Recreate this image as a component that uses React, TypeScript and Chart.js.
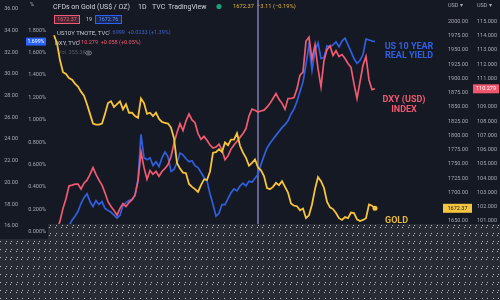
import React, { useEffect, useRef } from "react";
import { Chart, registerables } from "chart.js";

Chart.register(...registerables);

// ---- data (daily closes) ----
const goldValues = [
  1976, 1962, 1932, 1911, 1908, 1901, 1898, 1891, 1886, 1877,
  1870, 1855, 1838, 1821, 1819, 1819, 1821, 1838, 1857, 1860,
  1850, 1855, 1860, 1846, 1855, 1840, 1840, 1834, 1831, 1865,
  1857, 1838, 1840, 1834, 1840, 1829, 1824, 1822, 1821, 1814,
  1795, 1752, 1742, 1735, 1734, 1715, 1710, 1706, 1701, 1713,
  1723, 1722, 1737, 1770, 1771, 1776, 1771, 1788, 1783, 1793,
  1793, 1804, 1782, 1770, 1761, 1747, 1752, 1758, 1744, 1739,
  1729, 1708, 1706, 1710, 1717, 1713, 1720, 1710, 1700, 1681,
  1677, 1676, 1669, 1672, 1655, 1660, 1679, 1706, 1727, 1720,
  1708, 1684, 1674, 1671, 1664, 1655, 1652, 1657, 1655, 1665,
  1664, 1653, 1650, 1652, 1655, 1679, 1677, 1672.37,
];

const dxyValues = [
  99.84, 100.38, 101.0, 101.89, 102.57, 103.46, 103.52, 103.59, 103.59, 103.25,
  103.66, 103.87, 104.28, 104.75, 104.28, 103.87, 103.52, 102.98, 102.36, 102.02,
  101.75, 101.41, 101.89, 102.23, 102.02, 102.3, 102.5, 102.84, 103.8, 105.85,
  104.75, 103.93, 104.55, 104.28, 104.48, 104.14, 104.48, 104.69, 104.96, 105.51,
  106.46, 107.21, 107.83, 107.35, 108.03, 108.51, 108.1, 107.9, 107.14, 106.73,
  106.94, 106.67, 106.33, 106.12, 106.19, 106.39, 105.98, 105.3, 105.57, 106.05,
  106.33, 106.6, 106.87, 107.14, 107.49, 108.37, 108.85, 108.78, 108.65, 108.72,
  108.78, 108.99, 109.26, 109.6, 109.95, 109.54, 109.26, 108.85, 109.6, 109.6,
  109.67, 110.29, 111.24, 111.45, 113.63, 113.91, 112.34, 113.36, 111.72, 110.42,
  112.27, 113.02, 113.29, 112.61, 112.95, 112.54, 112.68, 112.4, 112.06, 111.79,
  110.63, 109.6, 110.77, 111.93, 112.54, 110.9, 110.22, 110.279,
];

const realYieldValues = [
  -0.052, -0.035, -0.017, -0.009, 0.017, 0.052, 0.104, 0.139, 0.183, 0.252,
  0.304, 0.339, 0.27, 0.226, 0.278, 0.243, 0.27, 0.209, 0.191, 0.174,
  0.148, 0.122, 0.148, 0.235, 0.261, 0.278, 0.287, 0.322, 0.47, 0.87,
  0.661, 0.643, 0.661, 0.591, 0.626, 0.583, 0.661, 0.713, 0.67, 0.539,
  0.557, 0.617, 0.704, 0.687, 0.652, 0.626, 0.635, 0.591, 0.574, 0.53,
  0.487, 0.452, 0.339, 0.243, 0.139, 0.165, 0.243, 0.243, 0.296, 0.348,
  0.383, 0.365, 0.409, 0.435, 0.409, 0.452, 0.443, 0.478, 0.513, 0.6,
  0.678, 0.748, 0.791, 0.826, 0.861, 0.896, 0.93, 0.957, 0.991, 1.052,
  1.096, 1.165, 1.252, 1.339, 1.496, 1.67, 1.443, 1.617, 1.687, 1.548,
  1.557, 1.661, 1.652, 1.67, 1.696, 1.652, 1.704, 1.73, 1.67, 1.609,
  1.548, 1.504, 1.53, 1.583, 1.722, 1.713, 1.704, 1.699,
];

const leftTicks = [16, 18, 20, 22, 24, 26, 28, 30, 32, 34, 36];
const pctTicks = [0, 0.2, 0.4, 0.6, 0.8, 1.0, 1.2, 1.4, 1.6, 1.8];
const goldTicks = [1650, 1700, 1725, 1750, 1775, 1800, 1825, 1850, 1875, 1900, 1925, 1950, 1975, 2000];
const dxyTicks = [101, 102, 103, 104, 105, 106, 107, 108, 109, 111, 112, 113, 114, 115];
const markerIndex = 68;

const FONT = "Roboto, 'Liberation Sans', sans-serif";
const BG = "#151923";
const AXIS_TEXT = "#a7aab3";
const GOLD = "#f7c43c";
const RED = "#f05a72";
const BLUE = "#3060e0";

const toPoints = (arr: number[]) => arr.map((v, i) => ({ x: i, y: v }));

const tvPlugin = {
  id: "tvDecor",
  beforeDraw(chart: any) {
    const ctx = chart.ctx;
    ctx.save();
    ctx.fillStyle = BG;
    ctx.fillRect(0, 0, chart.width, chart.height);
    ctx.restore();
  },
  beforeDatasetsDraw(chart: any) {
    const ctx = chart.ctx;
    const xs = chart.scales.x;
    ctx.save();
    // vertical marker line
    const vx = xs.getPixelForValue(markerIndex);
    ctx.strokeStyle = "#9d95d6";
    ctx.lineWidth = 1.2;
    ctx.beginPath();
    ctx.moveTo(vx, 0);
    ctx.lineTo(vx, chart.height);
    ctx.stroke();

    const t = (s: string, x: number, y: number, color: string, size: number, weight = "normal", align = "left") => {
      ctx.font = `${weight} ${size}px ${FONT}`;
      ctx.fillStyle = color;
      ctx.textAlign = align;
      ctx.textBaseline = "middle";
      ctx.fillText(s, x, y);
    };
    // header line 1
    t("CFDs on Gold (US$ / OZ)", 53, 7, "#d1d4dc", 7);
    t("1D", 138, 7, "#d1d4dc", 7);
    t("TVC", 152, 7, "#d1d4dc", 7);
    t("TradingView", 168, 7, "#d1d4dc", 7);
    ctx.fillStyle = "#1f9e7a";
    ctx.beginPath();
    ctx.arc(219, 6.5, 2.6, 0, Math.PI * 2);
    ctx.fill();
    t("1672.37  \u22123.11 (\u22120.19%)", 233, 7, "#e2b447", 5.8);
    // header line 2: price boxes
    ctx.fillStyle = "rgba(239,88,112,0.22)";
    ctx.fillRect(54, 15, 26, 9);
    ctx.strokeStyle = RED;
    ctx.lineWidth = 1;
    ctx.strokeRect(54.5, 15.5, 25, 8);
    t("1672.37", 67, 19.7, RED, 5.3, "normal", "center");
    t("19", 86, 19.7, "#c7cad3", 5.5);
    ctx.fillStyle = "rgba(41,98,255,0.22)";
    ctx.fillRect(95, 15, 27, 9);
    ctx.strokeStyle = "#2962ff";
    ctx.strokeRect(95.5, 15.5, 26, 8);
    t("1672.76", 108.5, 19.7, "#5d8bff", 5.3, "normal", "center");
    // header line 3-5
    t("US10Y TNOTE, TVC", 57, 33, "#c7cad3", 6);
    t("1.6999  +0.0233 (+1.39%)", 108, 33, "#3a63d6", 5.5);
    t("DXY, TVC", 55, 43, "#c7cad3", 6);
    t("110.279  +0.058 (+0.05%)", 78, 43, RED, 5.5);
    t("Vol  355.3K", 58, 53, "#585c66", 5.5);
    ctx.strokeStyle = "#8a8e97";
    ctx.lineWidth = 0.8;
    ctx.beginPath();
    ctx.ellipse(88.5, 53, 3, 2, 0, 0, Math.PI * 2);
    ctx.stroke();
    ctx.beginPath();
    ctx.arc(88.5, 53, 0.9, 0, Math.PI * 2);
    ctx.stroke();
    ctx.restore();
  },
  afterDatasetsDraw(chart: any) {
    const ctx = chart.ctx;
    const { yG, yD, yP } = chart.scales;
    ctx.save();
    const t = (s: string, x: number, y: number, color: string, size: number, weight = "normal", align = "left") => {
      ctx.font = `${weight} ${size}px ${FONT}`;
      ctx.fillStyle = color;
      ctx.textAlign = align;
      ctx.textBaseline = "middle";
      ctx.fillText(s, x, y);
    };
    // annotations
    t("US 10 YEAR", 409, 47, BLUE, 9, "bold", "center");
    t("REAL YIELD", 409, 56, BLUE, 9, "bold", "center");
    t("DXY (USD)", 404, 100, "#f0596f", 9, "bold", "center");
    t("INDEX", 404, 110, "#f0596f", 9, "bold", "center");
    t("GOLD", 385, 221, "#e6b83f", 9, "bold", "left");

    // axis unit headers
    t("%", 30, 5, AXIS_TEXT, 5.5);
    t("USD \u25BE", 448, 6, AXIS_TEXT, 5.5);
    t("USD \u25BE", 477, 6, AXIS_TEXT, 5.5);

    // last-value boxes
    const gLast = goldValues[goldValues.length - 1];
    const gy = yG.getPixelForValue(gLast);
    ctx.fillStyle = "#f5c542";
    ctx.fillRect(443, gy - 4.5, 29, 9);
    t(gLast.toFixed(2), 457.5, gy + 0.3, "#1a1a1a", 5.5, "normal", "center");

    const dLast = dxyValues[dxyValues.length - 1];
    const dy = yD.getPixelForValue(dLast);
    ctx.fillStyle = "#f0566e";
    ctx.fillRect(473, dy - 4.5, 26, 9);
    t(dLast.toFixed(3), 486, dy + 0.3, "#ffffff", 5.5, "normal", "center");

    const rLast = realYieldValues[realYieldValues.length - 1];
    const ry = yP.getPixelForValue(rLast);
    ctx.fillStyle = "#2962ff";
    ctx.fillRect(26, ry - 4, 20, 8);
    t(rLast.toFixed(3) + "%", 36, ry + 0.3, "#ffffff", 5.2, "normal", "center");
    ctx.restore();
  },
  afterDraw(chart: any) {
    const ctx = chart.ctx;
    ctx.save();
    ctx.fillStyle = "#282b34";
    ctx.fillRect(48, 224, 452, 76);
    ctx.fillRect(0, 239, 48, 61);
    ctx.fillStyle = "#b9bcc3";
    for (let r = 0; r < 10; r++) {
      const yy = Math.round(225 + r * 8.1);
      for (let c = -9; c < 82; c++) {
        const x = Math.round(49.3 + c * 5.6);
        if (x < 48 && yy < 240) continue;
        ctx.fillRect(x + 1, yy, 1, 1);
        ctx.fillRect(x, yy + 2, 1, 1);
      }
    }
    ctx.restore();
  },
};

function makeAxis(position: string, weight: number, min: number, max: number, width: number, ticks: number[], fmt: (v: number) => string) {
  return {
    type: "linear",
    position,
    weight,
    min,
    max,
    grid: { display: false, drawTicks: false },
    border: { display: false },
    afterBuildTicks: (scale: any) => {
      scale.ticks = ticks.map((v) => ({ value: v }));
    },
    afterFit: (scale: any) => {
      scale.width = width;
      scale.paddingTop = 0;
      scale.paddingBottom = 0;
    },
    ticks: {
      autoSkip: false,
      padding: position === "left" ? 4 : 3,
      color: AXIS_TEXT,
      font: { size: 5.5, family: FONT },
      callback: (v: any) => fmt(Number(v)),
    },
  };
}

export default function App() {
  const ref = useRef<HTMLCanvasElement | null>(null);
  useEffect(() => {
    document.body.style.margin = "0";
    document.body.style.background = BG;
    if (!ref.current) return;
    const chart = new Chart(ref.current, {
      type: "line",
      data: {
        datasets: [
          {
            label: "Gold",
            data: toPoints(goldValues),
            yAxisID: "yG",
            borderColor: GOLD,
            backgroundColor: GOLD,
            borderWidth: 1.8,
            pointRadius: (c: any) => (c.dataIndex === goldValues.length - 1 ? 2.5 : 0),
            pointBorderWidth: 0,
          },
          {
            label: "DXY",
            data: toPoints(dxyValues),
            yAxisID: "yD",
            borderColor: RED,
            borderWidth: 1.7,
            pointRadius: 0,
          },
          {
            label: "US 10Y Real Yield",
            data: toPoints(realYieldValues),
            yAxisID: "yP",
            borderColor: BLUE,
            borderWidth: 1.7,
            pointRadius: 0,
          },
        ],
      },
      options: {
        responsive: false,
        animation: false,
        layout: { padding: 0 },
        plugins: { legend: { display: false }, tooltip: { enabled: false } },
        elements: { line: { tension: 0 } },
        scales: {
          x: { type: "linear", display: false, min: -4 / 3, max: -4 / 3 + 395 / 3 },
          yL: makeAxis("left", 1, 9.543, 36.448, 22, leftTicks, (v) => v.toFixed(2)),
          yP: makeAxis("left", 0, -0.5739, 2.0348, 28, pctTicks, (v) => v.toFixed(3) + "%"),
          yG: makeAxis("right", 0, 1518.54, 2030.73, 29, goldTicks, (v) => v.toFixed(2)),
          yD: makeAxis("right", 1, 95.742, 116.229, 26, dxyTicks, (v) => v.toFixed(3)),
        },
      } as any,
      plugins: [tvPlugin as any],
    });
    return () => chart.destroy();
  }, []);
  return (
    <div style={{ position: "fixed", left: 0, top: 0, width: 500, height: 300, background: BG }}>
      <canvas ref={ref} width={500} height={300} style={{ display: "block" }} />
    </div>
  );
}
